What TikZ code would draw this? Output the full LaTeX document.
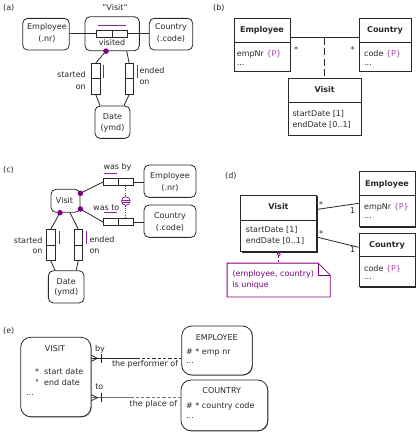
\documentclass[tikz,border=0pt]{standalone}
\usepackage{fontspec}
\setmainfont{DejaVu Sans}
\usetikzlibrary{calc,shadows}
\definecolor{ink}{RGB}{40,40,40}
\definecolor{pu}{RGB}{128,0,128}
\definecolor{pb}{RGB}{150,30,160}
\definecolor{pl}{RGB}{165,70,175}
\begin{document}
\begin{tikzpicture}[x=1pt,y=-1pt,
  tx/.style={font=\fontsize{8}{10}\selectfont, inner sep=0pt, text height=5.8pt, text depth=0pt, text=ink},
  tb/.style={tx, font=\fontsize{8}{10}\selectfont\bfseries},
  tp/.style={tx, text=pu},
  ent/.style={draw=ink, line width=0.8pt, rounded corners=5pt, inner sep=0pt, fill=white},
  entE/.style={draw=ink, line width=0.8pt, rounded corners=10pt, inner sep=0pt, fill=white},
  rl/.style={draw=ink, line width=0.8pt, inner sep=0pt, fill=white, minimum width=15.5pt, minimum height=7.3pt},
  vrl/.style={draw=ink, line width=0.8pt, inner sep=0pt, fill=white, minimum width=8.3pt, minimum height=15.5pt},
  cls/.style={draw=ink, line width=0.8pt, inner sep=0pt, fill=white, drop shadow={shadow xshift=1.1pt, shadow yshift=-1.1pt, opacity=0.85, fill=black}},
  cn/.style={draw=ink, line width=0.8pt},
  cg/.style={draw=black!55, line width=0.8pt},
  ubar/.style={draw=pb, line width=1pt},
  pdot/.style={circle, fill=pu, inner sep=0pt, minimum size=5.5pt},
]
\fill[white] (0,0) rectangle (420,432);
\useasboundingbox (0,0) rectangle (420,432);

% ---------------- (a)
\node[tx, anchor=west] (la) at (3,8) {(a)};
\node[tx] (qa) at (115,7.5) {"Visit"};
\node[ent, minimum width=54.3pt, minimum height=34pt] (visA) at (112.2,33.7) {};
\node[ent, minimum width=46.6pt, minimum height=31.7pt] (empA) at (46,34.2) {};
\node[tx] (empAt1) at (47,27) {Employee};
\node[tx] (empAt2) at (47,39) {(.nr)};
\node[ent, minimum width=43.4pt, minimum height=31.7pt] (couA) at (171,34.2) {};
\node[tx] (couAt1) at (171,27) {Country};
\node[tx] (couAt2) at (171,39) {(.code)};
\node[rl] (rA1) at (104.45,33.7) {};
\node[rl] (rA2) at (119.95,33.7) {};
\draw[cn] (rA1.west -| empA.east) -- (rA1.west);
\draw[cn] (rA2.east) -- (rA2.east -| couA.west);
\draw[ubar] ($(rA1.north west)+(2,-4.5)$) -- ($(rA2.north east)+(-1.7,-4.5)$);
\node[tx] (vtA) at (112,42.7) {visited};
\node[vrl] (sA1) at (95.85,71.05) {};
\node[vrl] (sA2) at (95.85,86.55) {};
\node[vrl] (nA1) at (129.15,71.05) {};
\node[vrl] (nA2) at (129.15,86.55) {};
\draw[ubar] ($(sA1.north east)+(3.4,1.7)$) -- ($(sA1.south east)+(3.4,-1.5)$);
\draw[ubar] ($(nA1.north east)+(3.4,1.7)$) -- ($(nA1.south east)+(3.4,-1.5)$);
\node[tx, anchor=east] (stA1) at (86,75) {started};
\node[tx, anchor=east] (stA2) at (86,86.6) {on};
\node[tx, anchor=west] (edA1) at (139.3,71) {ended};
\node[tx, anchor=west] (edA2) at (139.3,81.2) {on};
\node[ent, minimum width=35pt, minimum height=32.3pt] (datA) at (112.5,122.2) {};
\node[tx] (datAt1) at (112.5,116.7) {Date};
\node[tx] (datAt2) at (112.5,127.3) {(ymd)};
\coordinate (dA) at ($(visA.south)+(-6.2,0)$);
\draw[cn] (dA) -- (sA1.north);
\draw[cn] ($(visA.south)+(14.5,0)$) -- (nA1.north);
\draw[cn] (sA2.south) -- ($(datA.north)+(-12.5,0)$);
\draw[cn] (nA2.south) -- ($(datA.north)+(11.5,0)$);
\node[pdot] (dotA) at (dA) {};

% ---------------- (b)
\node[tx, anchor=west] (lb) at (213,7.3) {(b)};
\node[cls, minimum width=56pt, minimum height=24pt] (eBh) at (262,30.3) {};
\node[cls, minimum width=56pt, minimum height=28.7pt] (eBb) at (262,56.65) {};
\node[tb] (eBt) at (262,29.5) {Employee};
\node[tx, anchor=west] (eBa1) at (236.7,53.3) {empNr {\color{pl}\{P\}}};
\node[tx, anchor=west] (eBa2) at (236.7,62.3) {...};
\node[cls, minimum width=52pt, minimum height=24pt] (cBh) at (385,30.3) {};
\node[cls, minimum width=52pt, minimum height=28.7pt] (cBb) at (385,56.65) {};
\node[tb] (cBt) at (385,29.5) {Country};
\node[tx, anchor=west] (cBa1) at (364,53.3) {code {\color{pl}\{P\}}};
\node[tx, anchor=west] (cBa2) at (364,62.3) {...};
\coordinate (aB1) at ($(eBh.east)+(0,7.4)$);
\coordinate (aB2) at ($(cBh.west)+(0,7.4)$);
\draw[cn] (aB1) -- (aB2);
\coordinate (mB) at ($(aB1)!0.5!(aB2)$);
\node[tx] (sB1) at (296,49.5) {*};
\node[tx] (sB2) at (352.7,49.5) {*};
\node[cls, minimum width=73pt, minimum height=24.4pt] (vBh) at (324.5,90.5) {};
\node[cls, minimum width=73pt, minimum height=32.3pt] (vBb) at (324.5,118.85) {};
\draw[cn, dash pattern=on 7pt off 3.5pt] (mB) -- (vBh.north);
\node[tb] (vBt) at (324.7,90) {Visit};
\node[tx, anchor=west] (vBa1) at (292.3,113.3) {startDate [1]};
\node[tx, anchor=west] (vBa2) at (292.3,125) {endDate [0..1]};

% ---------------- (c)
\node[tx, anchor=west] (lc) at (3,170) {(c)};
\node[ent, minimum width=29pt, minimum height=23pt] (vC) at (65.5,200.8) {};
\node[tx] (vCt) at (64.5,200.7) {Visit};
\node[ent, minimum width=52pt, minimum height=32.3pt] (emC) at (170,181.2) {};
\node[tx] (emCt1) at (170,176) {Employee};
\node[tx] (emCt2) at (170,187.7) {(.nr)};
\node[ent, minimum width=52pt, minimum height=32.3pt] (coC) at (170,221.2) {};
\node[tx] (coCt1) at (170,215.7) {Country};
\node[tx] (coCt2) at (170,227.3) {(.code)};
\node[rl, minimum width=15pt] (bC1) at (110.8,182) {};
\node[rl, minimum width=15pt] (bC2) at (125.8,182) {};
\node[rl, minimum width=15pt] (tC1) at (110.8,222) {};
\node[rl, minimum width=15pt] (tC2) at (125.8,222) {};
\node[tx] (wbC) at (117.5,167) {was by};
\node[tx] (wtC) at (106.3,207.5) {was to};
\draw[ubar] ($(bC1.north west)+(0.8,-4.3)$) -- ($(bC1.north east)+(-1.5,-4.3)$);
\draw[ubar] ($(tC1.north west)+(0.8,-5)$) -- ($(tC1.north east)+(-1.5,-5)$);
\coordinate (dC1) at ($(vC.east)+(0,-7.5)$);
\coordinate (dC2) at ($(vC.east)+(0,8.2)$);
\coordinate (dC3) at ($(vC.south)+(-5.5,0)$);
\draw[cn] (dC1) -- (bC1.west);
\draw[cn] (dC2) -- (tC1.west);
\draw[cn] (bC2.east) -- (bC2.east -| emC.west);
\draw[cn] (tC2.east) -- (tC2.east -| coC.west);
\node[circle, draw=pb, fill=white, line width=0.8pt, minimum size=8.6pt, inner sep=0pt] (xu) at ($(bC2.south)+(0,15)$) {};
\draw[pb, line width=0.8pt, dash pattern=on 1pt off 1.2pt] (bC2.south) -- (xu.north);
\draw[pb, line width=0.8pt, dash pattern=on 1pt off 1.2pt] (xu.south) -- (tC2.north);
\draw[pb, line width=0.7pt] ($(xu.center)+(-4,-1.1)$) -- ($(xu.center)+(4,-1.1)$);
\draw[pb, line width=0.7pt] ($(xu.center)+(-4,1.1)$) -- ($(xu.center)+(4,1.1)$);
\node[vrl, minimum height=15.7pt] (sC1) at (50.85,237.15) {};
\node[vrl, minimum height=15.7pt] (sC2) at (50.85,252.85) {};
\node[vrl, minimum height=15.7pt] (nC1) at (78.15,237.15) {};
\node[vrl, minimum height=15.7pt] (nC2) at (78.15,252.85) {};
\draw[ubar] ($(sC1.north east)+(4,2.4)$) -- ($(sC1.south east)+(4,-1.7)$);
\draw[ubar] ($(nC1.north east)+(3.8,2.4)$) -- ($(nC1.south east)+(3.8,-1.7)$);
\node[tx, anchor=east] (stC1) at (42.7,240.5) {started};
\node[tx, anchor=east] (stC2) at (42.7,251) {on};
\node[tx, anchor=west] (edC1) at (89.3,240) {ended};
\node[tx, anchor=west] (edC2) at (89.3,251) {on};
\node[ent, minimum width=35.7pt, minimum height=32.3pt] (dtC) at (66.2,286.85) {};
\node[tx] (dtCt1) at (66.2,281.4) {Date};
\node[tx] (dtCt2) at (66.2,292) {(ymd)};
\draw[cn] (dC3) -- (sC1.north);
\draw[cn] ($(vC.south)+(4.5,0)$) -- (nC1.north);
\draw[cn] (sC2.south) -- ($(dtC.north)+(-11,0)$);
\draw[cn] (nC2.south) -- ($(dtC.north)+(10,0)$);
\node[pdot] (dotC1) at (dC1) {};
\node[pdot] (dotC2) at (dC2) {};
\node[pdot] (dotC3) at (dC3) {};

% ---------------- (d)
\node[tx, anchor=west] (ld) at (225,176) {(d)};
\node[cls, minimum width=76pt, minimum height=25pt] (vDh) at (278.7,207.5) {};
\node[cls, minimum width=76pt, minimum height=31.7pt] (vDb) at (278.7,235.85) {};
\node[tb] (vDt) at (278.5,206.7) {Visit};
\node[tx, anchor=west] (vDa1) at (245.7,230) {startDate [1]};
\node[tx, anchor=west] (vDa2) at (245.7,240.7) {endDate [0..1]};
\node[cls, minimum width=56pt, minimum height=24pt] (eDh) at (387,183.7) {};
\node[cls, minimum width=56pt, minimum height=31pt] (eDb) at (387,211.2) {};
\node[tb] (eDt) at (387,183.3) {Employee};
\node[tx, anchor=west] (eDa1) at (364,206.7) {empNr {\color{pl}\{P\}}};
\node[tx, anchor=west] (eDa2) at (364,215.4) {...};
\node[cls, minimum width=56pt, minimum height=22.7pt] (cDh) at (387,244.65) {};
\node[cls, minimum width=56pt, minimum height=30.7pt] (cDb) at (387,271.35) {};
\node[tb] (cDt) at (387,245) {Country};
\node[tx, anchor=west] (cDa1) at (364,268.3) {code {\color{pl}\{P\}}};
\node[tx, anchor=west] (cDa2) at (364,277) {...};
\draw[cn] ($(vDh.east)+(0.6,1.8)$) -- ($(eDb.west)+(0,-7.9)$);
\draw[cn] ($(vDb.east)+(0.6,1.45)$) -- ($(cDh.west)+(0,2.65)$);
\node[tx] (mD1) at (321,204.5) {*};
\node[tx] (oD1) at (352.7,211) {1};
\node[tx] (mD2) at (321,233.5) {*};
\node[tx] (oD2) at (352.7,250) {1};
\node[inner sep=0pt, minimum width=102.7pt, minimum height=33.4pt] (nD) at (278.65,280) {};
\draw[pu, line width=0.8pt] (nD.north west) -- ($(nD.north east)+(-12,0)$) -- ($(nD.north east)+(0,12)$) -- (nD.south east) -- (nD.south west) -- cycle;
\draw[pu, line width=0.8pt] ($(nD.north east)+(-12,0)$) -- ($(nD.north east)+(-12,12)$) -- ($(nD.north east)+(0,12)$);
\node[tp, anchor=west] (nDt1) at (232.3,273.3) {(employee, country)};
\node[tp, anchor=west] (nDt2) at (232.3,285) {is unique};
\node[circle, draw=pu, fill=white, line width=0.7pt, inner sep=0pt, minimum size=3.2pt] (oD) at ($(vDb.south)+(0,2.2)$) {};
\draw[pu, line width=0.8pt, dash pattern=on 2pt off 1.6pt] (oD.south) -- (oD.south |- nD.north);

% ---------------- (e)
\node[tx, anchor=west] (le) at (3,330.7) {(e)};
\node[entE, drop shadow={shadow xshift=0.6pt, shadow yshift=-0.6pt, opacity=0.6, fill=black}, minimum width=70.3pt, minimum height=79.4pt] (vE) at (55.85,377) {};
\node[tx] (vEt) at (55,349) {VISIT};
\node[tx, anchor=west] (vEa1) at (35,371.7) {*\hspace{5pt}start date};
\node[tx, anchor=west] (vEa2) at (35,382.7) {°\hspace{5pt}end date};
\node[tx, anchor=west] (vEa3) at (26,392.5) {...};
\node[entE, drop shadow={shadow xshift=0.6pt, shadow yshift=-0.6pt, opacity=0.6, fill=black}, minimum width=70.6pt, minimum height=49pt] (eE) at (217,350.5) {};
\node[tx] (eEt) at (216.7,337.7) {EMPLOYEE};
\node[tx, anchor=west] (eEa1) at (186,351.7) {\# * emp nr};
\node[tx, anchor=west] (eEa2) at (186,360.8) {...};
\node[entE, drop shadow={shadow xshift=0.6pt, shadow yshift=-0.6pt, opacity=0.6, fill=black}, minimum width=86.7pt, minimum height=50.7pt] (cE) at (224.35,405.35) {};
\node[tx] (cEt) at (221.7,391) {COUNTRY};
\node[tx, anchor=west] (cEa1) at (186,406) {\# * country code};
\node[tx, anchor=west] (cEa2) at (186,415.5) {...};
\coordinate (bA) at ($(vE.east)+(0,-18.7)$);
\coordinate (bB) at (bA -| eE.west);
\coordinate (bM) at ($(bA)+(45,0)$);
\draw[cn] (bA) -- (bM);
\draw[cn, dash pattern=on 3.3pt off 2pt] (bM) -- (bB);
\draw[cn] ($(bA)+(0,-3)$) -- ($(bA)+(6,0)$) -- ($(bA)+(0,3)$);
\draw[cn] ($(bA)+(9.5,-4.3)$) -- ($(bA)+(9.5,4.3)$);
\coordinate (tA) at ($(vE.east)+(0,20.7)$);
\coordinate (tB) at (tA -| cE.west);
\coordinate (tM) at ($(tA)+(39,0)$);
\draw[cg] (tA) -- (tM);
\draw[cg, dash pattern=on 3.3pt off 2pt] (tM) -- (tB);
\draw[cn] ($(tA)+(0,-3)$) -- ($(tA)+(6,0)$) -- ($(tA)+(0,3)$);
\draw[cn] ($(tA)+(9.5,-4.3)$) -- ($(tA)+(9.5,4.3)$);
\node[tx] (byE) at (100,348.5) {by};
\node[tx] (toE) at (99.3,387) {to};
\node[tx, anchor=east] (pfE) at (178.3,363.5) {the performer of};
\node[tx, anchor=east] (plE) at (177.3,403.5) {the place of};
\end{tikzpicture}
\end{document}
